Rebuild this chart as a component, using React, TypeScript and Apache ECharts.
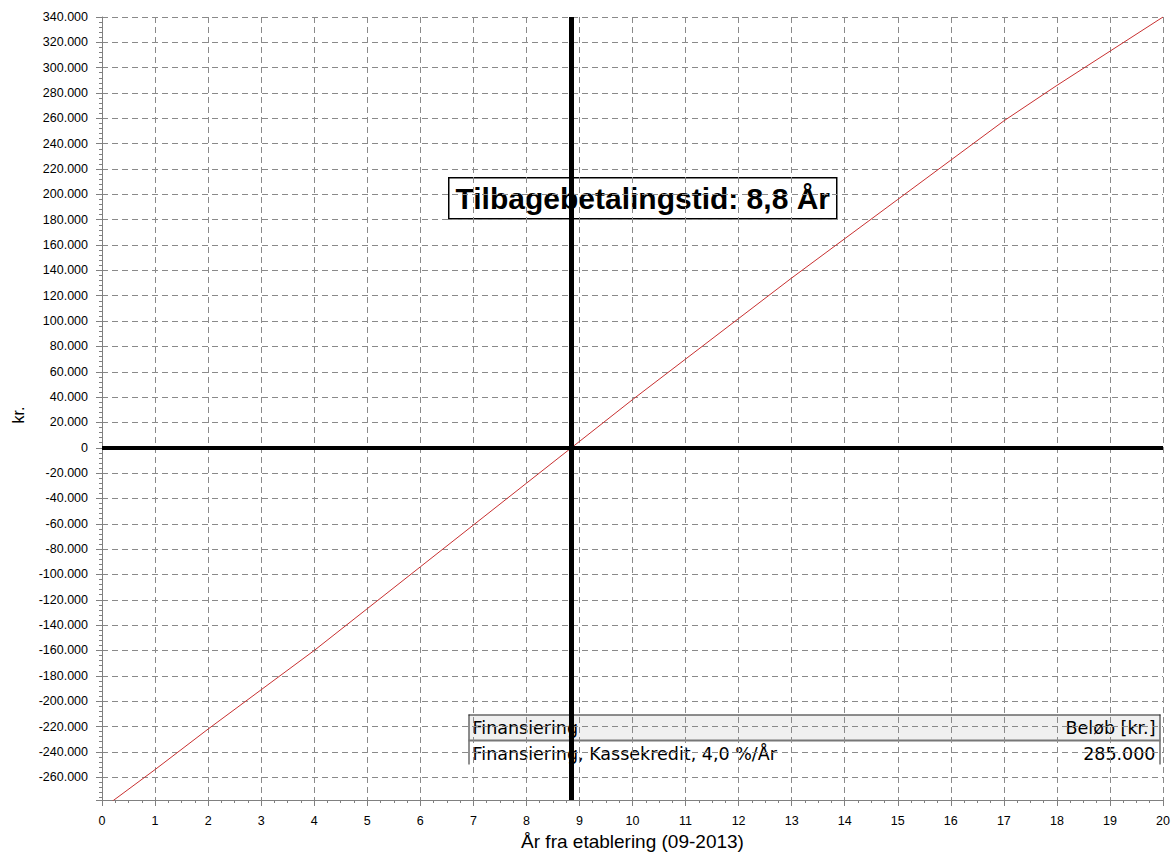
import React, { useEffect, useRef } from "react";
import * as echarts from "echarts";

const years = [0, 1, 2, 3, 4, 5, 6, 7, 8, 9, 10, 11, 12, 13, 14, 15, 16, 17, 18, 19, 20];
const cumulative = [
  -285000, -254000, -222000, -191000, -160000, -127000, -94000, -61000, -28000, 5000,
  38000, 70000, 102000, 134000, 165000, 196000, 227000, 258000, 286000, 313000, 340000,
];
const paybackYears = 8.85;
const paybackLabel = "Tilbagebetalingstid: 8,8 År";
const tableHeader = ["Finansiering", "Beløb [kr.]"];
const tableRow = ["Finansiering, Kassekredit, 4,0 %/År", "285.000"];
const xName = "År fra etablering (09-2013)";
const yName = "kr.";

const fmt = (v: number) => {
  const s = Math.abs(v).toString().replace(/\B(?=(\d{3})+(?!\d))/g, ".");
  return (v < 0 ? "-" : "") + s;
};

export default function App() {
  const ref = useRef<HTMLDivElement>(null);
  useEffect(() => {
    const chart = echarts.init(ref.current!, null, { renderer: "svg" });
    const tickFont = { fontFamily: "Liberation Sans", fontSize: 12.5, color: "#000" };
    const tableFont = { fontFamily: "DejaVu Sans", fontSize: 17.5, fill: "#000" };
    chart.setOption({
      animation: false,
      backgroundColor: "#fff",
      grid: { left: 102, right: 10, top: 17, bottom: 52, containLabel: false, outerBoundsMode: "none" },
      xAxis: {
        type: "value",
        min: 0,
        max: 20,
        interval: 1,
        name: xName,
        nameLocation: "middle",
        nameGap: 30,
        nameTextStyle: { fontFamily: "Liberation Sans", fontSize: 19, color: "#000" },
        axisLine: { onZero: false, lineStyle: { color: "#808080", width: 1 } },
        axisTick: { length: 6, lineStyle: { color: "#808080" } },
        minorTick: { show: true, splitNumber: 4, length: 3, lineStyle: { color: "#808080" } },
        axisLabel: { ...tickFont, margin: 14 },
        splitLine: { show: true, lineStyle: { color: "#8a8a8a", type: [6, 4], width: 1 } },
      },
      yAxis: {
        type: "value",
        min: -278000,
        max: 340000,
        splitNumber: 30,
        axisLine: { onZero: false, lineStyle: { color: "#808080", width: 1 } },
        axisTick: { length: 6, lineStyle: { color: "#808080" } },
        minorTick: { show: true, splitNumber: 5, length: 3, lineStyle: { color: "#808080" } },
        axisLabel: {
          ...tickFont,
          margin: 14,
          formatter: (v: number) => (v % 20000 === 0 ? fmt(v) : ""),
        },
        splitLine: { show: true, lineStyle: { color: "#8a8a8a", type: [6, 4], width: 1 } },
      },
      series: [
        {
          type: "line",
          data: years.map((x, i) => [x, cumulative[i]]),
          showSymbol: false,
          lineStyle: { color: "#c83030", width: 1 },
          clip: true,
          markLine: {
            silent: true,
            symbol: "none",
            label: { show: false },
            data: [
              { xAxis: paybackYears, lineStyle: { color: "#000", width: 5, type: "solid" } },
              { yAxis: 0, lineStyle: { color: "#000", width: 4, type: "solid" } },
            ],
          },
        },
      ],
      graphic: [
        {
          type: "text",
          x: 18,
          y: 415,
          rotation: Math.PI / 2,
          style: {
            text: yName,
            fontFamily: "Liberation Sans",
            fontSize: 16,
            fill: "#000",
            align: "center",
            verticalAlign: "middle",
          },
        },
        {
          type: "group",
          left: 448,
          top: 177,
          children: [
            { type: "rect", shape: { x: 0, y: 0, width: 388, height: 41 }, style: { fill: "#fff", stroke: "#000", lineWidth: 1.5 } },
            {
              type: "text",
              x: 194,
              y: 21,
              style: {
                text: paybackLabel,
                fontFamily: "Liberation Sans",
                fontSize: 30,
                fontWeight: "bold",
                fill: "#000",
                align: "center",
                verticalAlign: "middle",
              },
            },
          ],
        },
        {
          type: "group",
          left: 466,
          top: 712,
          children: [
            { type: "rect", shape: { x: 0, y: 0, width: 692, height: 26 }, style: { fill: "#f0f0f0" } },
            { type: "rect", shape: { x: 0, y: 26, width: 692, height: 24 }, style: { fill: "#fff" } },
            { type: "line", shape: { x1: 0, y1: 0.5, x2: 692, y2: 0.5 }, style: { stroke: "#222", lineWidth: 1 } },
            { type: "line", shape: { x1: 0.5, y1: 0, x2: 0.5, y2: 50 }, style: { stroke: "#222", lineWidth: 1 } },
            { type: "line", shape: { x1: 691.5, y1: 0, x2: 691.5, y2: 50 }, style: { stroke: "#222", lineWidth: 1 } },
            { type: "line", shape: { x1: 0, y1: 26, x2: 692, y2: 26 }, style: { stroke: "#777", lineWidth: 2 } },
            { type: "text", x: 4, y: 13, style: { ...tableFont, text: tableHeader[0], verticalAlign: "middle" } },
            { type: "text", x: 687, y: 13, style: { ...tableFont, text: tableHeader[1], align: "right", verticalAlign: "middle" } },
            { type: "text", x: 4, y: 39, style: { ...tableFont, text: tableRow[0], verticalAlign: "middle" } },
            { type: "text", x: 687, y: 39, style: { ...tableFont, text: tableRow[1], align: "right", verticalAlign: "middle" } },
          ],
        },
      ],
    });
    return () => chart.dispose();
  }, []);
  return <div ref={ref} style={{ width: 1173, height: 852, position: "absolute", left: 0, top: 0 }} />;
}
